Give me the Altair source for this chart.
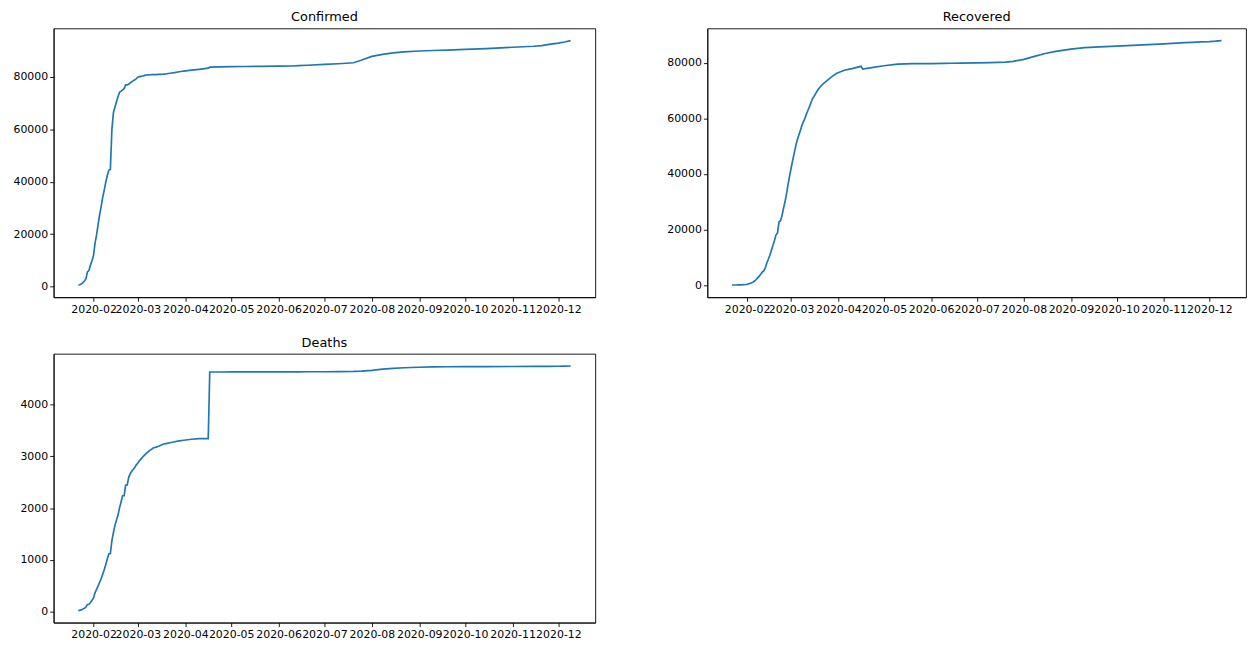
import altair as alt
import pandas as pd
from datetime import datetime, timezone

# ---- data (cumulative counts) ----
dates = [
    "2020-01-22", "2020-01-23", "2020-01-24", "2020-01-25", "2020-01-26", "2020-01-27", "2020-01-28",
    "2020-01-29", "2020-01-30", "2020-01-31",
    "2020-02-01", "2020-02-02", "2020-02-03", "2020-02-04", "2020-02-05", "2020-02-06", "2020-02-07",
    "2020-02-08", "2020-02-09", "2020-02-10", "2020-02-11", "2020-02-12", "2020-02-13", "2020-02-14",
    "2020-02-15", "2020-02-16", "2020-02-17", "2020-02-18", "2020-02-19", "2020-02-20", "2020-02-21",
    "2020-02-22", "2020-02-23", "2020-02-24", "2020-02-25", "2020-02-26", "2020-02-27", "2020-02-28",
    "2020-02-29",
    "2020-03-01", "2020-03-02", "2020-03-03", "2020-03-04", "2020-03-05", "2020-03-06", "2020-03-07",
    "2020-03-08", "2020-03-09", "2020-03-10", "2020-03-11", "2020-03-12", "2020-03-13", "2020-03-14",
    "2020-03-15", "2020-03-16", "2020-03-17", "2020-03-18", "2020-03-19", "2020-03-20",
    "2020-03-22", "2020-03-25", "2020-03-28", "2020-03-31", "2020-04-05", "2020-04-10", "2020-04-16",
    "2020-04-17", "2020-04-24", "2020-05-01", "2020-05-10", "2020-05-20", "2020-06-01", "2020-06-10",
    "2020-06-14", "2020-06-20", "2020-07-01", "2020-07-10", "2020-07-20", "2020-07-25", "2020-08-01",
    "2020-08-08", "2020-08-15", "2020-08-22", "2020-09-01", "2020-09-10", "2020-09-20", "2020-10-01",
    "2020-10-15", "2020-11-01", "2020-11-15", "2020-11-20", "2020-11-25", "2020-12-01", "2020-12-05",
    "2020-12-09",
]

confirmed = [
    548, 643, 920, 1406, 2075, 2877, 5509, 6087, 8141, 9802,
    11891, 16630, 19716, 23707, 27440, 30587, 34110, 36814, 39829, 42354, 44386, 44759, 59895, 66358,
    68413, 70513, 72434, 74211, 74619, 75077, 75550, 77001, 77022, 77241, 77754, 78166, 78600, 78928,
    79356,
    79932, 80136, 80261, 80386, 80537, 80690, 80770, 80823, 80860, 80887, 80921, 80932, 80945, 80977,
    81003, 81033, 81058, 81102, 81156, 81250,
    81435, 81661, 81999, 82279, 82602, 82941, 83403,
    83760, 83884, 83959, 84010, 84063, 84154, 84216,
    84335, 84494, 84816, 85071, 85450, 86400, 87880,
    88630, 89230, 89580, 89930, 90120, 90290, 90550,
    90850, 91370, 91760, 92020, 92480, 92960, 93360,
    93900,
]

recovered = [
    28, 30, 36, 39, 49, 58, 101, 120, 135, 214,
    275, 463, 614, 843, 1115, 1476, 1998, 2595, 3218, 3917, 4635, 5079, 6213, 7973,
    9294, 10748, 12455, 14199, 15952, 18002, 18693, 22687, 23170, 24990, 27650, 30053, 32898, 36291,
    39279,
    42118, 44810, 47404, 49955, 52240, 53888, 55478, 57320, 58735, 59882, 61475, 62793, 64111, 65541,
    67021, 67862, 68799, 69725, 70547, 71284,
    72362, 73773, 75100, 76206, 77310, 77877, 78700,
    77700, 78300, 78900, 79500, 79650, 79700, 79750,
    79800, 79850, 79950, 80050, 80200, 80500, 81200,
    82300, 83300, 84100, 84900, 85450, 85700, 86000,
    86350, 86800, 87200, 87350, 87500, 87600, 87750,
    87950,
]

deaths = [
    17, 18, 26, 42, 56, 82, 131, 133, 171, 213,
    259, 361, 425, 491, 563, 633, 718, 805, 905, 1012, 1112, 1117, 1369, 1521,
    1663, 1766, 1864, 2003, 2116, 2238, 2238, 2443, 2445, 2595, 2665, 2717, 2746, 2790,
    2837,
    2872, 2914, 2947, 2983, 3015, 3044, 3072, 3099, 3122, 3140, 3162, 3173, 3180, 3193,
    3203, 3217, 3230, 3241, 3249, 3253,
    3265, 3285, 3300, 3313, 3333, 3343, 3346,
    4636, 4636, 4637, 4637, 4638, 4638, 4639,
    4639, 4640, 4641, 4642, 4646, 4652, 4668,
    4690, 4705, 4718, 4728, 4734, 4737, 4739,
    4740, 4742, 4744, 4744, 4745, 4747, 4749,
    4752,
]

month_ticks = [2, 3, 4, 5, 6, 7, 8, 9, 10, 11, 12]
count_ticks = [0, 20000, 40000, 60000, 80000]
death_ticks = [0, 1000, 2000, 3000, 4000]

df = pd.DataFrame({"date": dates, "Confirmed": confirmed, "Recovered": recovered, "Deaths": deaths})


def ms(s):
    return datetime.strptime(s, "%Y-%m-%d").replace(tzinfo=timezone.utc).timestamp() * 1000.0


t0, t1 = ms(dates[0]), ms(dates[-1])
tpad = 0.05 * (t1 - t0)
xdom = [t0 - tpad, t1 + tpad]

H = 271


def panel(col, yticks, w):
    lo, hi = float(min(df[col])), float(max(df[col]))
    p = 0.05 * (hi - lo)
    return alt.Chart(df, title=col).mark_line(color="#1f77b4", strokeWidth=1.7).encode(
        x=alt.X(
            "date:T",
            scale=alt.Scale(type="utc", domain=xdom),
            axis=alt.Axis(
                values=[alt.DateTime(year=2020, month=m, date=1, utc=True) for m in month_ticks],
                format="%Y-%m", title=None,
                labelOverlap=False, labelFlush=False,
            ),
        ),
        y=alt.Y(
            f"{col}:Q",
            scale=alt.Scale(domain=[lo - p, hi + p], nice=False, zero=False),
            axis=alt.Axis(values=yticks, format="d", title=None),
        ),
    ).properties(width=w, height=H)


top = alt.hconcat(panel("Confirmed", count_ticks, 546), panel("Recovered", count_ticks, 543), spacing=70)
chart = alt.vconcat(top, panel("Deaths", death_ticks, 546), spacing=21).properties(
    padding={"left": 4, "top": 0, "right": 0, "bottom": 0}
).configure_view(
    stroke="black", strokeWidth=0.9
).configure_axis(
    grid=False,
    domainColor="black", domainWidth=0.9,
    tickColor="black", tickWidth=0.9, tickSize=4,
    labelColor="black", labelFont="DejaVu Sans", labelFontSize=11, labelPadding=2,
).configure_title(
    font="DejaVu Sans", fontSize=13, fontWeight="normal", color="black", offset=4,
)

chart.save("out.html", embed_options={"renderer": "svg", "actions": False})
